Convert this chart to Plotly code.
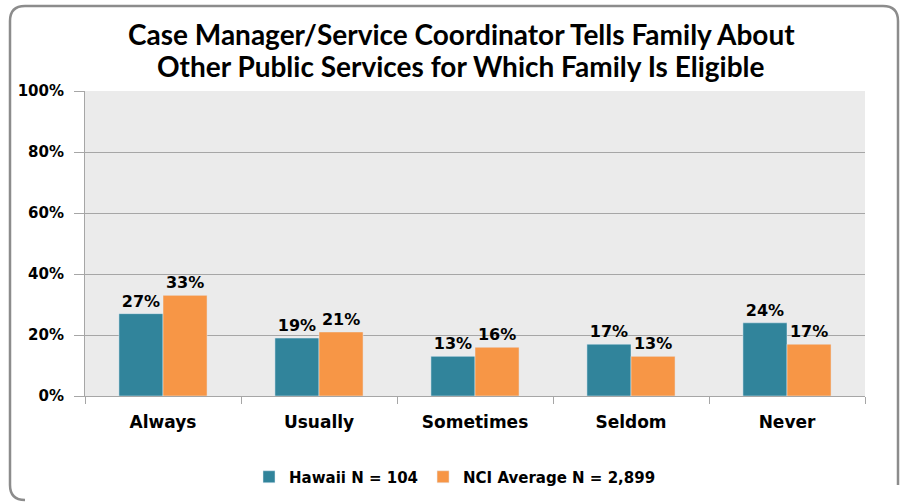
import plotly.graph_objects as go

categories = ["Always", "Usually", "Sometimes", "Seldom", "Never"]
hawaii = [27, 19, 13, 17, 24]
nci = [33, 21, 16, 13, 17]
series_names = ["Hawaii N = 104", "NCI Average N = 2,899"]
y_ticks = [0, 20, 40, 60, 80, 100]
y_tick_labels = [f"{v}%" for v in y_ticks]

W, H = 903, 502
ML, MR, MT, MB = 85, 38, 91, 106
PW, PH = W - ML - MR, H - MT - MB

def px(x):
    return (x - ML) / PW

def py(y):
    return (H - MB - y) / PH

label_font = dict(family="DejaVu Sans", size=16, color="black")

fig = go.Figure()
fig.add_trace(go.Bar(
    x=categories, y=hawaii, name=f"<b>{series_names[0]}</b>",
    marker=dict(color="#31849b"),
    text=[f"<b>{v}%</b>" for v in hawaii], textposition="outside",
    textfont=label_font, cliponaxis=False,
))
fig.add_trace(go.Bar(
    x=categories, y=nci, name=f"<b>{series_names[1]}</b>",
    marker=dict(color="#f79646"),
    text=[f"<b>{v}%</b>" for v in nci], textposition="outside",
    textfont=label_font, cliponaxis=False,
))

# rounded frame
x0, y0, x1, y1, r = px(10), py(6), px(898), py(500), 15
rx, ry = r / PW, r / PH
path = (f"M {x0},{y1+ry} L {x0},{y0-ry} Q {x0},{y0} {x0+rx},{y0} "
        f"L {x1-rx},{y0} Q {x1},{y0} {x1},{y0-ry} L {x1},{y1+ry} "
        f"M {x0},{y1+ry} Q {x0},{y1} {x0+rx},{y1}")
fig.add_shape(type="path", path=path, xref="paper", yref="paper",
              line=dict(color="#8c8c8c", width=2.5), layer="below")

# title as annotations (one per line)
title_lines = ["Case Manager/Service Coordinator Tells Family About",
               "Other Public Services for Which Family Is Eligible"]
for line, yc in zip(title_lines, [34, 66]):
    fig.add_annotation(
        text=f"<b>{line}</b>", xref="paper", yref="paper",
        x=px(461), y=py(yc), xanchor="center", yanchor="middle",
        showarrow=False,
        font=dict(family="Lato", size=28, color="black"),
    )

fig.update_layout(
    width=W, height=H,
    margin=dict(l=ML, r=MR, t=MT, b=MB, autoexpand=False),
    paper_bgcolor="white", plot_bgcolor="#ebebeb",
    barmode="group", bargap=0.435, bargroupgap=0,
    legend=dict(
        orientation="h", x=px(455), xanchor="center", xref="paper",
        y=-(477 - (H - MB)) / PH, yanchor="middle",
        font=dict(family="DejaVu Sans", size=15, color="black"),
        traceorder="normal", itemwidth=30,
    ),
    showlegend=True,
    font=dict(family="DejaVu Sans", color="black"),
)
fig.update_yaxes(
    range=[0, 100], tickvals=y_ticks, ticktext=[f"<b>{t}</b>" for t in y_tick_labels],
    showgrid=True, gridcolor="#a6a6a6", gridwidth=1,
    showline=True, linecolor="#a6a6a6", linewidth=1,
    ticks="outside", ticklen=10, tickcolor="#a6a6a6",
    tickfont=dict(family="DejaVu Sans", size=15, color="black"),
    ticklabelstandoff=7,
    zeroline=False, fixedrange=True,
)
fig.update_xaxes(
    tickvals=categories, ticktext=[f"<b>{c}</b>" for c in categories],
    showline=True, linecolor="#a6a6a6", linewidth=1,
    ticks="outside", ticklen=7, tickcolor="#a6a6a6", tickson="boundaries",
    tickfont=dict(family="DejaVu Sans", size=17, color="black"),
    ticklabelstandoff=11,
    showgrid=False, fixedrange=True,
)

fig.write_html("out.html", config={"displayModeBar": False},
               post_script="document.body.style.margin='0';")
